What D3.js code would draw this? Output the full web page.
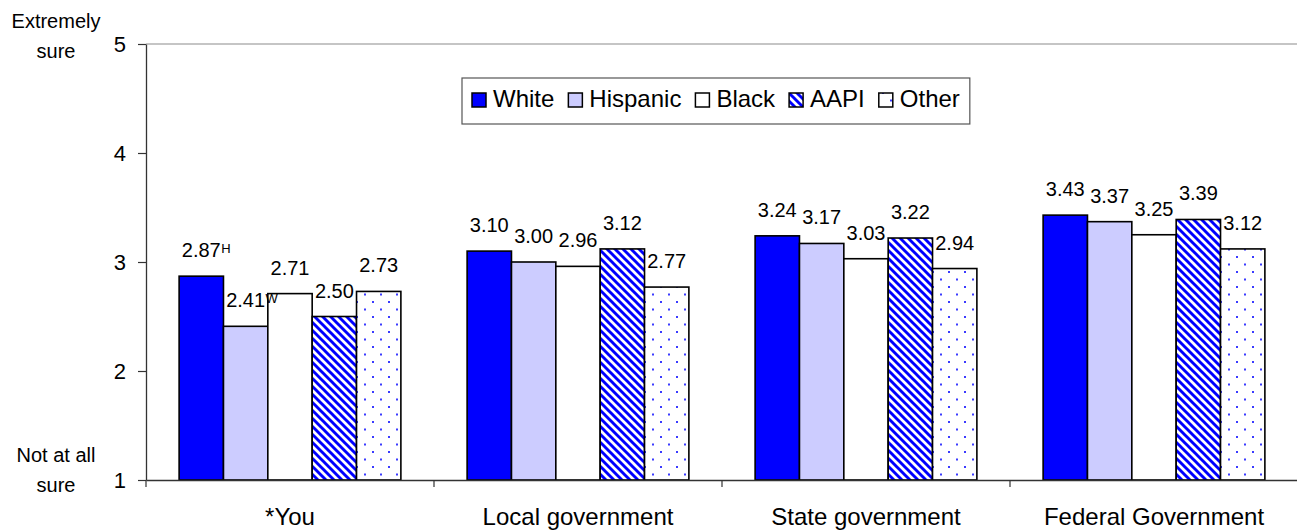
<!DOCTYPE html>
<html>
<head>
<meta charset="utf-8">
<script src="https://cdn.jsdelivr.net/npm/d3@7"></script>
<style>
  body { margin: 0; background: #fff; }
  text { font-family: "Liberation Sans", Arial, sans-serif; fill: #000; }
</style>
</head>
<body>
<script>
// chart data
let categories = ["*You", "Local government", "State government", "Federal Government"];
let seriesNames = ["White", "Hispanic", "Black", "AAPI", "Other"];
let white    = [2.87, 3.10, 3.24, 3.43];
let hispanic = [2.41, 3.00, 3.17, 3.37];
let black    = [2.71, 2.96, 3.03, 3.25];
let aapi     = [2.50, 3.12, 3.22, 3.39];
let other    = [2.73, 2.77, 2.94, 3.12];
// significance superscripts next to some labels
let whiteNotes    = ["H", "", "", ""];
let hispanicNotes = ["W", "", "", ""];
let yTicks = [1, 2, 3, 4, 5];

let seriesValues = [white, hispanic, black, aapi, other];
let seriesNotes = [whiteNotes, hispanicNotes, ["", "", "", ""], ["", "", "", ""], ["", "", "", ""]];
let fills = ["#0000ff", "#ccccff", "#ffffff", "url(#stripes)", "url(#dots)"];

let W = 1297, H = 531;
let margin = {top: 44, left: 146, bottom: 51, right: -1};
let width = W - margin.left - margin.right;
let height = H - margin.top - margin.bottom;

let svg = d3.select("body").append("svg")
    .attr("width", W)
    .attr("height", H);

// patterns for AAPI (diagonal stripes) and Other (dots)
let defs = svg.append("defs");
let stripes = defs.append("pattern")
    .attr("id", "stripes")
    .attr("patternUnits", "userSpaceOnUse")
    .attr("width", 8).attr("height", 8);
stripes.append("rect").attr("width", 8).attr("height", 8).attr("fill", "#fff");
stripes.append("path")
    .attr("d", "M-1,-1 L9,9 M-3,5 L3,11 M5,-3 L11,3")
    .attr("stroke", "#0000ff")
    .attr("stroke-width", 2.9);

let dots = defs.append("pattern")
    .attr("id", "dots")
    .attr("patternUnits", "userSpaceOnUse")
    .attr("width", 16).attr("height", 15);
dots.append("rect").attr("width", 16).attr("height", 15).attr("fill", "#fff");
dots.append("rect").attr("x", 2).attr("y", 2).attr("width", 2).attr("height", 2).attr("fill", "#3b3bff");
dots.append("rect").attr("x", 10).attr("y", 9.5).attr("width", 2).attr("height", 2).attr("fill", "#3b3bff");

let g = svg.append("g")
    .attr("transform", "translate(" + margin.left + "," + margin.top + ")");

// scales
let x0 = d3.scaleBand().domain(categories).range([0, width]);
let bw = x0.bandwidth();
let x1 = d3.scaleBand().domain(seriesNames).range([bw * 0.115, bw * 0.885]);
let y = d3.scaleLinear().domain([1, 5]).range([height, 0]);

// top border of plot area
g.append("line")
    .attr("x1", 0).attr("x2", width)
    .attr("y1", y(5)).attr("y2", y(5))
    .attr("stroke", "#8c8c8c").attr("stroke-width", 1.2);

// bars
let groups = g.selectAll(".grp")
    .data(categories)
    .enter().append("g")
    .attr("transform", function(d) { return "translate(" + x0(d) + ",0)"; });

seriesNames.forEach(function(name, si) {
    groups.append("rect")
        .attr("x", x1(name))
        .attr("width", x1.bandwidth())
        .attr("y", function(d, i) { return y(seriesValues[si][i]); })
        .attr("height", function(d, i) { return y(1) - y(seriesValues[si][i]); })
        .attr("fill", fills[si])
        .attr("stroke", "#000")
        .attr("stroke-width", 1.6);
});

// value labels
let fmt = d3.format(".2f");
seriesNames.forEach(function(name, si) {
    groups.each(function(d, i) {
        let cx = x1(name) + x1.bandwidth() / 2;
        let ly = y(seriesValues[si][i]) - 19;
        let t = d3.select(this).append("text")
            .attr("x", cx)
            .attr("y", ly)
            .attr("text-anchor", "middle")
            .style("font-size", "20px")
            .text(fmt(seriesValues[si][i]));
        let note = seriesNotes[si][i];
        if (note) {
            let tw = t.node().getComputedTextLength();
            d3.select(this).append("text")
                .attr("x", cx + tw / 2 + 0.5)
                .attr("y", ly - 4)
                .style("font-size", "13px")
                .text(note);
        }
    });
});

// y axis
let yAxis = g.append("g")
    .call(d3.axisLeft(y).tickValues(yTicks).tickFormat(d3.format("d"))
        .tickSize(8).tickSizeOuter(0).tickPadding(12));
yAxis.select(".domain").attr("stroke", "#333").attr("stroke-width", 1.3);
yAxis.selectAll(".tick line").attr("stroke", "#333").attr("stroke-width", 1.2);
yAxis.selectAll("text").style("font-size", "22px").attr("fill", "#000");

// x axis: category labels, ticks between categories
let xAxis = g.append("g")
    .attr("transform", "translate(0," + height + ")")
    .call(d3.axisBottom(x0).tickSize(0).tickPadding(28));
xAxis.select(".domain").attr("stroke", "#333").attr("stroke-width", 1.3);
xAxis.selectAll("text").style("font-size", "24px").attr("fill", "#000");

let bounds = categories.map(function(c) { return x0(c); }).concat([width]);
g.selectAll(".xsep")
    .data(bounds)
    .enter().append("line")
    .attr("x1", function(d) { return d; }).attr("x2", function(d) { return d; })
    .attr("y1", height).attr("y2", height + 7)
    .attr("stroke", "#333").attr("stroke-width", 1.2);

// scale end notes
let endNotes = [
    {lines: ["Extremely", "sure"], y0: 28},
    {lines: ["Not at all", "sure"], y0: 462}
];
endNotes.forEach(function(n) {
    n.lines.forEach(function(l, k) {
        svg.append("text")
            .attr("x", 56)
            .attr("y", n.y0 + k * 30)
            .attr("text-anchor", "middle")
            .style("font-size", "20px")
            .text(l);
    });
});

// legend
let legend = svg.append("g");
let legendBox = legend.append("rect")
    .attr("x", 462).attr("y", 78)
    .attr("height", 46)
    .attr("fill", "#fff")
    .attr("stroke", "#555").attr("stroke-width", 1.2);
let lx = 472;
seriesNames.forEach(function(name, si) {
    legend.append("rect")
        .attr("x", lx).attr("y", 93)
        .attr("width", 14).attr("height", 14)
        .attr("fill", fills[si])
        .attr("stroke", "#000").attr("stroke-width", 1.5);
    let t = legend.append("text")
        .attr("x", lx + 21).attr("y", 107)
        .style("font-size", "24px")
        .text(name);
    lx += 21 + t.node().getComputedTextLength() + 14;
});
legendBox.attr("width", lx - 462 - 4);
</script>
</body>
</html>
